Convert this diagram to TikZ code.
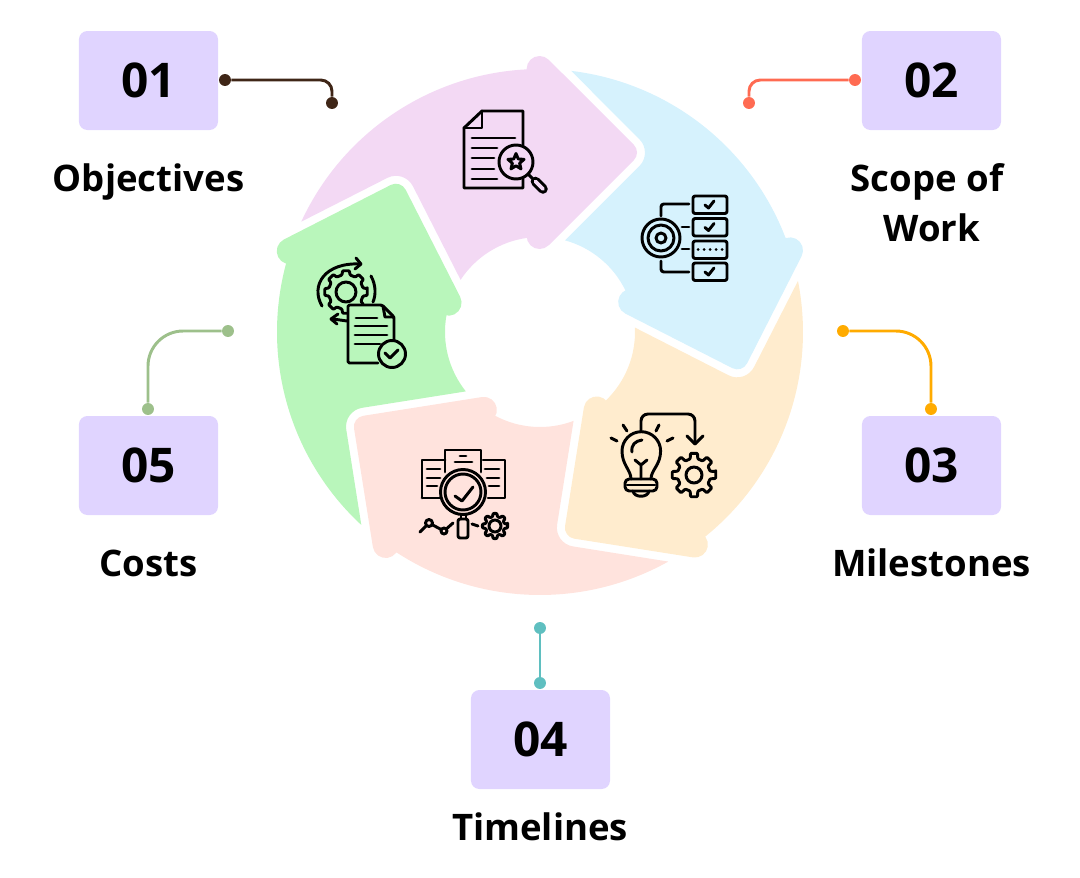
\documentclass[tikz,border=0pt]{standalone}
\usepackage{fontspec}
\usetikzlibrary{calc}
\setmainfont{Open Sans}
\definecolor{petalpink}{HTML}{F3D9F4}
\definecolor{petalblue}{HTML}{D6F2FD}
\definecolor{petalorange}{HTML}{FFECCE}
\definecolor{petalsalmon}{HTML}{FFE3DD}
\definecolor{petalgreen}{HTML}{B9F6BB}
\definecolor{boxpurple}{HTML}{E0D4FF}
\definecolor{leadbrown}{HTML}{3F2617}
\definecolor{leadred}{HTML}{FF6B52}
\definecolor{leadorange}{HTML}{FFAB00}
\definecolor{leadteal}{HTML}{5FBFC0}
\definecolor{leadgreen}{HTML}{9DC08B}
\tikzset{
    pxframe/.style={shift={(-540,332)},yscale=-1},
    numbox/.style={fill=boxpurple,rounded corners=6pt,minimum width=98.9pt,minimum height=70.4pt,inner sep=0pt,font=\fontsize{34}{36}\selectfont\bfseries},
    toplabel/.style={inner sep=0pt,anchor=base,font=\fontsize{26}{30}\selectfont\bfseries},
    leaddot/.style={circle,fill=#1,minimum size=8.5pt,inner sep=0pt},
    leader/.style={draw=#1,line width=2.1pt},
    iconline/.style={draw=black,line width=2.1pt,line cap=round,line join=round},
}
\newcommand{\petal}[2]{
    \fill[#2,rotate=#1] (155.2:263) arc[start angle=155.2,end angle=92.8,radius=263]
        -- (-13.4,263) arc[start angle=180,end angle=45,radius=13]
        -- (93.8,187.3) arc[start angle=45,end angle=-45,radius=11]
        -- (8.8,86.8) arc[start angle=-45,end angle=-180,radius=13]
        -- (97.9:95) arc[start angle=97.9,end angle=146.7,radius=95]
        -- (-127.1,145.8) arc[start angle=27,end angle=117,radius=19]
        -- cycle;
}
\newcommand{\gearicon}[5]{
    \begin{scope}[shift={(#1,#2)}]
        \pgfmathsetmacro{\gearstep}{360/#5}
        \draw[iconline,rounded corners=0.6pt] (-0.2*\gearstep:#3) \foreach \k in {1,...,#5}{
            -- (\k*\gearstep-\gearstep-0.2*\gearstep:#3) -- (\k*\gearstep-\gearstep+0.2*\gearstep:#3)
            -- (\k*\gearstep-\gearstep+0.3*\gearstep:#4) -- (\k*\gearstep-0.3*\gearstep:#4)} -- cycle;
    \end{scope}
}
\begin{document}
\begin{tikzpicture}[x=0.025cm,y=0.025cm]
    \useasboundingbox (-540,332) rectangle (540,-545);
    \petal{0}{petalpink}
    \petal{-72}{petalblue}
    \petal{-144}{petalorange}
    \petal{-216}{petalsalmon}
    \petal{72}{petalgreen}

    \begin{scope}[pxframe]
    \node[numbox] (n1) at (148.5,80.5) {01};
    \node[numbox] (n2) at (931.5,80.5) {02};
    \node[numbox] (n3) at (931.5,465.5) {03};
    \node[numbox] (n4) at (540.5,739.5) {04};
    \node[numbox] (n5) at (148.5,465.5) {05};
    \node[toplabel] (l1) at (148.5,191) {Objectives};
    \node[toplabel] (l2a) at (927,191) {Scope of};
    \node[toplabel] (l2b) at (932,241) {Work};
    \node[toplabel] (l3) at (931.5,576) {Milestones};
    \node[toplabel] (l4) at (540,840) {Timelines};
    \node[toplabel] (l5) at (148.5,576) {Costs};

    \node[leaddot=leadbrown] (a1) at (225,80) {};
    \node[leaddot=leadbrown] (b1) at (332,103) {};
    \draw[leader=leadbrown,rounded corners=8pt] (a1) -| (b1);
    \node[leaddot=leadred] (a2) at (855,80) {};
    \node[leaddot=leadred] (b2) at (749,103) {};
    \draw[leader=leadred,rounded corners=8pt] (a2) -| (b2);
    \node[leaddot=leadorange] (a3) at (843,331) {};
    \node[leaddot=leadorange] (b3) at (931,409) {};
    \draw[leader=leadorange,rounded corners=25pt] (a3) -| (b3);
    \node[leaddot=leadteal] (a4) at (540,628) {};
    \node[leaddot=leadteal] (b4) at (540,683) {};
    \draw[leader=leadteal] (a4) -- (b4);
    \node[leaddot=leadgreen] (a5) at (228,331) {};
    \node[leaddot=leadgreen] (b5) at (148,409) {};
    \draw[leader=leadgreen,rounded corners=25pt] (a5) -| (b5);

    \draw[iconline] (523,147) -- (523,111) -- (482,111) -- (464,128) -- (464,188) -- (523,188) -- (523,178);
    \draw[iconline] (482,111) -- (482,128) -- (464,128);
    \draw[iconline] (472,138) -- (515,138) (472,148) -- (497,148) (472,158) -- (494,158)
        (472,169) -- (494,169) (472,179) -- (497,179);
    \draw[iconline,fill=petalpink] (516,162) circle (17);
    \draw[iconline] ($(516,162)+(-90:8.5)$) \foreach \k in {0,...,4}{
        -- ($(516,162)+(\k*72-90:8.5)$) -- ($(516,162)+(\k*72-54:3.8)$)} -- cycle;
    \draw[iconline] (528,174) -- (534,180);
    \draw[line width=2.1pt,double=petalpink,double distance=2.6pt,line cap=round] (535.5,181.5) -- (543,189);

    \draw[iconline] (661,238) circle (19) (661,238) circle (13) (661,238) circle (5);
    \foreach \y in {196,218.5,241,263}{
        \draw[iconline,rounded corners=1.5pt] (693,\y) rectangle (727,\y+17.5);
    }
    \foreach \y in {0,22.5,67}{
        \draw[iconline] (705,205+\y) -- (708.5,208+\y) -- (714,201+\y);
    }
    \foreach \x in {698,704,710,716,722}{
        \draw[iconline] (\x,249.5) -- (\x+0.1,249.5);
    }
    \draw[iconline,rounded corners=2pt] (661,216) -- (661,204) -- (689,204);
    \draw[iconline,rounded corners=2pt] (661,261) -- (661,272) -- (689,272);
    \draw[iconline] (682,227) -- (689,227) (682,249) -- (689,249);

    \draw[iconline] (631,479) .. controls (631,470) and (622,465) .. (622,451)
        arc[start angle=180,end angle=360,radius=19.3]
        .. controls (660.6,465) and (651,470) .. (651,479);
    \draw[iconline,rounded corners=3pt] (625,479) rectangle (657,491);
    \draw[iconline] (627,485) -- (655,485);
    \draw[iconline] (633,491) .. controls (634,498) and (648,498) .. (649,491);
    \draw[iconline] (635,460) -- (641,465) -- (647,460) (641,465) -- (641,479);
    \draw[iconline] (632,452) .. controls (631,445) and (635,441) .. (642,440);
    \draw[iconline] (611,438) -- (617,441) (623,425) -- (627,431) (659,425) -- (656,431) (673,438) -- (667,441);
    \draw[iconline,rounded corners=5pt] (641,431) -- (641,414) -- (695,414) -- (695,444);
    \draw[iconline] (687,436) -- (695,444) -- (703,436);
    \gearicon{694}{475}{22}{16.5}{8}
    \draw[iconline] (694,475) circle (8);

    \draw[iconline] (422,498) -- (422,460) -- (445,460) (445,472) -- (445,450) -- (481,450) -- (481,472)
        (483,460) -- (505,460) -- (505,498) -- (488,498) (422,498) -- (440,498);
    \draw[iconline] (460,456) -- (466,456) (455,462) -- (472,462);
    \draw[iconline] (427,469) -- (440,469) (427,478) -- (440,478) (427,486) -- (437,486);
    \draw[iconline] (485,469) -- (499,469) (487,478) -- (499,478) (489,486) -- (499,486);
    \draw[iconline] (463,492) circle (22.5) (463,492) circle (18);
    \draw[iconline] (455,496) -- (462,501) -- (473,487);
    \draw[iconline] (461,515) -- (461,519) (466,515) -- (466,519);
    \draw[iconline,rounded corners=1.5pt] (458,519) rectangle (468,538);
    \draw[iconline] (420,532) -- (429,523) -- (444,531) -- (453,523);
    \draw[iconline,fill=petalsalmon] (429,523) circle (3.5) (444,531) circle (3);
    \draw[iconline] (472,524) -- (478,526);
    \gearicon{495}{526}{12.7}{9.7}{8}
    \draw[iconline] (495,526) circle (6);

    \gearicon{346}{292}{21.5}{17.5}{8}
    \draw[iconline] (346,292) circle (10);
    \draw[iconline] (322,306) .. controls (310,285) and (325,262) .. (361,264);
    \draw[iconline] (356,258) -- (361,264) -- (355,269);
    \draw[iconline] (371,276) .. controls (376,285) and (376,295) .. (373,302);
    \draw[iconline] (347,321) -- (333,319);
    \draw[iconline] (338,314) -- (331,319) -- (337,324);
    \draw[iconline,fill=petalgreen,rounded corners=1pt] (378,363) -- (348,363) -- (348,305) -- (382,305) -- (394,317) -- (394,341);
    \draw[iconline] (383,306) -- (385,317) -- (394,317);
    \draw[iconline] (356,318) -- (377,318) (355,326) -- (387,326) (355,335) -- (387,335) (355,344) -- (380,344);
    \draw[iconline,fill=petalgreen] (392,354) circle (13.5);
    \draw[iconline] (385,353) -- (390,358) -- (398,350);
    \end{scope}
\end{tikzpicture}
\end{document}
